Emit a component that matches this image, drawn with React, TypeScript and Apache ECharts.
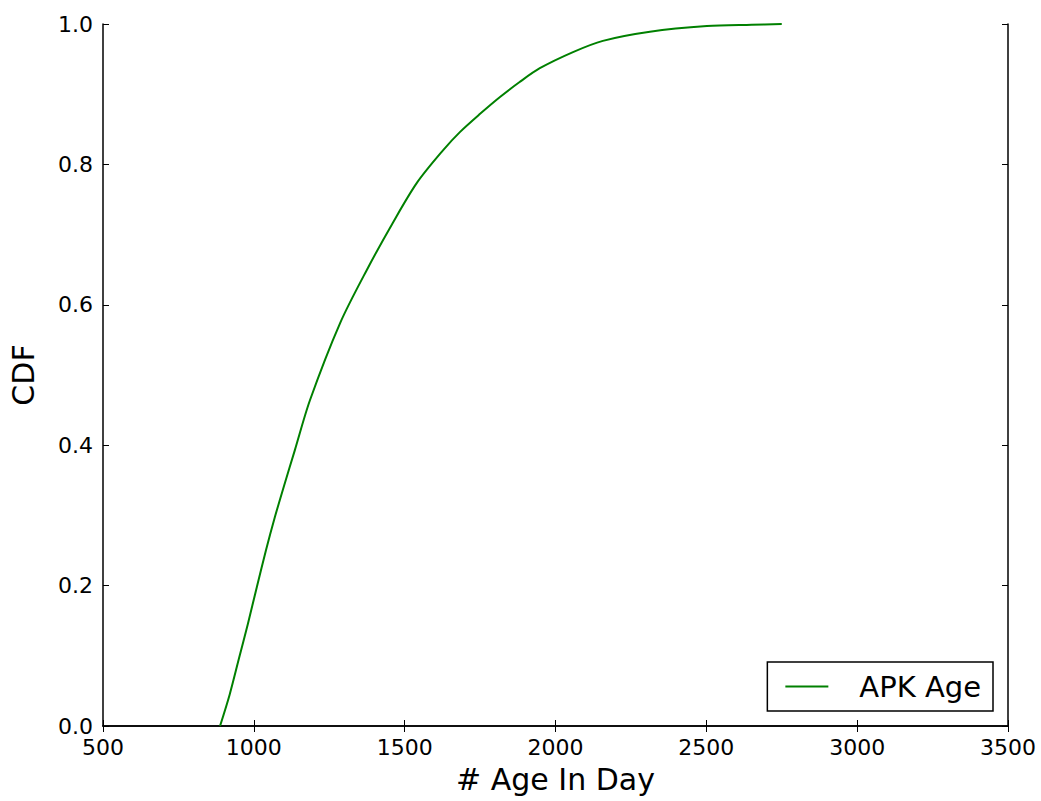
import React, { useEffect, useRef } from "react";
import * as echarts from "echarts";

const ageDays = [888, 920, 950, 980, 1010, 1040, 1070, 1100, 1136, 1186, 1286, 1375, 1461, 1541, 1627, 1683, 1750, 1816, 1880, 1948, 2058, 2157, 2313, 2502, 2650, 2750];
const cdfValues = [0, 0.045, 0.095, 0.145, 0.198, 0.25, 0.298, 0.342, 0.393, 0.464, 0.574, 0.65, 0.717, 0.774, 0.82, 0.846, 0.872, 0.896, 0.917, 0.937, 0.96, 0.976, 0.989, 0.997, 0.999, 1.0];
const seriesName = "APK Age";
const xTitle = "# Age In Day";
const yTitle = "CDF";

const FONT = "DejaVu Sans";

export default function App() {
  const ref = useRef<HTMLDivElement>(null);
  useEffect(() => {
    if (!ref.current) return;
    const chart = echarts.init(ref.current, null, { renderer: "svg" });
    const data = ageDays.map((x, i) => [x, cdfValues[i]]);
    const axisLine = { show: true, lineStyle: { color: "#000", width: 1.5 } };
    const tick = { show: true, inside: true, length: 6, lineStyle: { color: "#000", width: 1 } };
    chart.setOption({
      animation: false,
      backgroundColor: "#fff",
      grid: { left: 103, right: 33, top: 24, bottom: 75, containLabel: false },
      legend: {
        right: 48,
        bottom: 90,
        orient: "vertical",
        borderColor: "#000",
        borderWidth: 1.5,
        borderRadius: 0,
        padding: [10, 12, 10, 18],
        itemWidth: 43,
        itemHeight: 2,
        textStyle: { fontFamily: FONT, fontSize: 29, color: "#000", padding: [0, 0, 0, 26] },
        data: [{ name: seriesName, icon: "rect" }],
      },
      xAxis: [
        {
          type: "value",
          min: 500,
          max: 3500,
          interval: 500,
          position: "bottom",
          name: xTitle,
          nameLocation: "middle",
          nameGap: 38,
          nameTextStyle: { fontFamily: FONT, fontSize: 30, color: "#000" },
          axisLine,
          axisTick: tick,
          splitLine: { show: false },
          axisLabel: {
            fontFamily: FONT,
            fontSize: 22,
            color: "#000",
            margin: 10,
            formatter: (v: number) => String(v),
          },
        },
        {
          type: "value",
          min: 500,
          max: 3500,
          interval: 500,
          position: "top",
          axisLine,
          axisTick: tick,
          splitLine: { show: false },
          axisLabel: { show: false },
        },
      ],
      yAxis: [
        {
          type: "value",
          min: 0,
          max: 1,
          interval: 0.2,
          position: "left",
          name: yTitle,
          nameLocation: "middle",
          nameGap: 65,
          nameTextStyle: { fontFamily: FONT, fontSize: 30, color: "#000" },
          axisLine,
          axisTick: tick,
          splitLine: { show: false },
          axisLabel: {
            fontFamily: FONT,
            fontSize: 22,
            color: "#000",
            margin: 10,
            formatter: (v: number) => v.toFixed(1),
          },
        },
        {
          type: "value",
          min: 0,
          max: 1,
          interval: 0.2,
          position: "right",
          axisLine,
          axisTick: tick,
          splitLine: { show: false },
          axisLabel: { show: false },
        },
      ],
      series: [
        {
          name: seriesName,
          type: "line",
          data,
          symbol: "none",
          smooth: 0.3,
          lineStyle: { color: "#008000", width: 2 },
          itemStyle: { color: "#008000" },
          xAxisIndex: 0,
          yAxisIndex: 0,
        },
      ],
    });
    return () => chart.dispose();
  }, []);
  return (
    <div
      ref={ref}
      style={{ position: "fixed", left: 0, top: 0, width: 1041, height: 801, background: "#fff" }}
    />
  );
}
